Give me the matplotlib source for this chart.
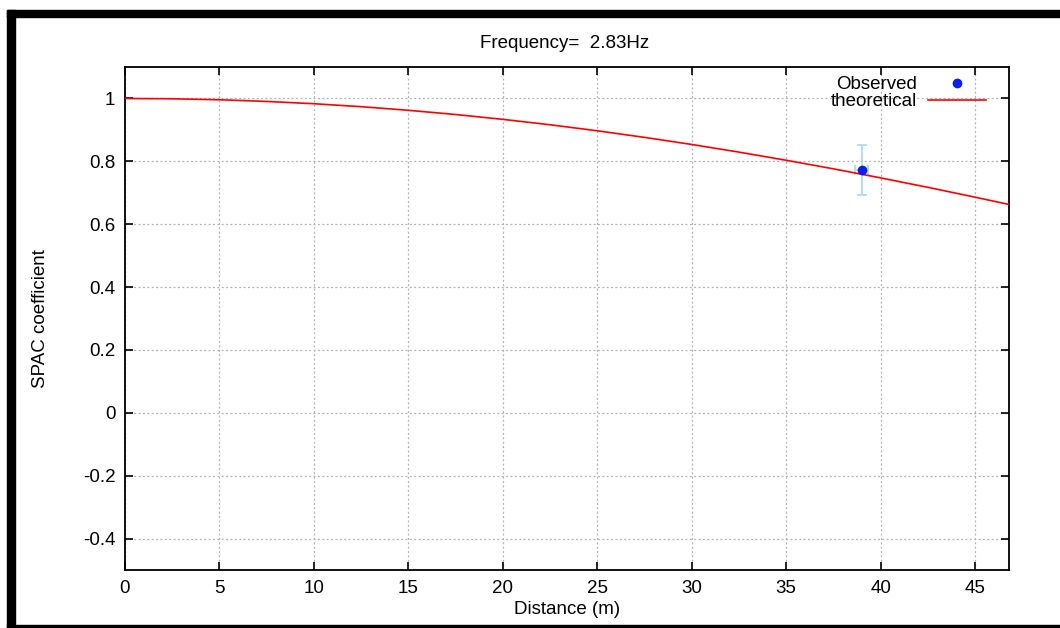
import matplotlib.pyplot as plt
from matplotlib.patches import Rectangle

# theoretical SPAC curve
dist = [0, 2.5, 5, 7.5, 10, 12.5, 15, 17.5, 20, 22.5, 25, 27.5, 30,
        32.5, 35, 37.5, 40, 42.5, 45, 46.8]
theo = [1.0, 0.9989, 0.9958, 0.9905, 0.9832, 0.9738, 0.9623, 0.9489, 0.9335,
        0.9163, 0.8971, 0.8762, 0.8536, 0.8293, 0.8034, 0.7761, 0.7473,
        0.7173, 0.6860, 0.6627]

# observed point
obs_x = [39.0]
obs_y = [0.772]
obs_err = [0.079]
obs_xerr = [0.35]

xticks = [0, 5, 10, 15, 20, 25, 30, 35, 40, 45]
yticks = [-0.4, -0.2, 0, 0.2, 0.4, 0.6, 0.8, 1]
ytick_labels = ["-0.4", "-0.2", "0", "0.2", "0.4", "0.6", "0.8", "1"]

plt.rcParams["font.family"] = ["Liberation Sans", "DejaVu Sans"]
plt.rcParams["font.size"] = 13.5

fig = plt.figure(figsize=(10.6, 6.28), dpi=100)
ax = fig.add_axes([0.1179, 0.0924, 0.834, 0.8009])

# outer black frame (top, left, bottom)
fig.patches.append(Rectangle((7 / 1060, 1 - 17 / 628), 1, 7 / 628,
                             transform=fig.transFigure, color="black"))
fig.patches.append(Rectangle((7 / 1060, 0), 8 / 1060, 1 - 10 / 628,
                             transform=fig.transFigure, color="black"))
fig.patches.append(Rectangle((7 / 1060, 0), 1, 3 / 628,
                             transform=fig.transFigure, color="black"))

ax.errorbar(obs_x, obs_y, yerr=obs_err, xerr=obs_xerr, fmt="none",
            ecolor="#a8d8f0", elinewidth=1.2, capsize=3.3, capthick=1.2,
            zorder=3)
ax.plot(obs_x, obs_y, "o", color="#0a1ef0", markersize=6,
        label="Observed", zorder=4)
ax.plot(dist, theo, color="red", linewidth=1.2, label="theoretical",
        zorder=3)

ax.set_xlim(0, 46.8)
ax.set_ylim(-0.5, 1.1)
ax.set_xticks(xticks)
ax.set_yticks(yticks)
ax.set_yticklabels(ytick_labels)
ax.tick_params(direction="in", length=6, width=1.2, top=True, right=True,
               pad=7, colors="black")
ax.grid(True, color="#b0b0b0", linestyle=(0, (1.5, 2)), linewidth=0.9)
for s in ax.spines.values():
    s.set_linewidth(1.3)

ax.set_xlabel("Distance (m)", labelpad=3)
ax.set_ylabel("SPAC coefficient")
ax.yaxis.set_label_coords(-0.086, 0.5)
fig.text(0.533, 1 - 43 / 628, "Frequency=  2.83Hz", ha="center",
         va="center")

leg = ax.legend(loc="upper right", bbox_to_anchor=(0.987, 1.004),
                frameon=False, markerfirst=False, handlelength=3.1,
                handletextpad=0.6, labelspacing=0.0, borderaxespad=0.2)

fig.savefig("out.png", dpi=100)
plt.close(fig)
